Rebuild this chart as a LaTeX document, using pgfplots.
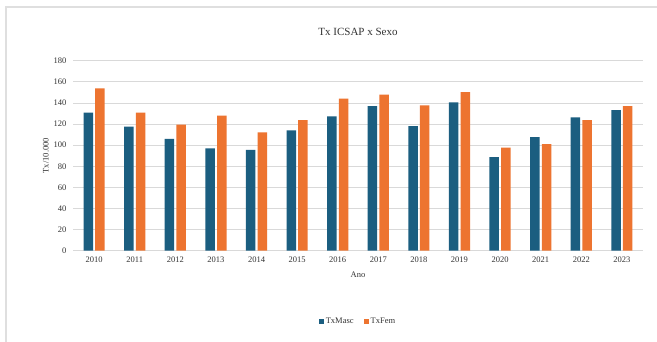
\documentclass[border=0pt]{standalone}
\usepackage{pgfplots}
\pgfplotsset{compat=1.18}
\usepackage{fontspec}
\setmainfont{Liberation Serif}
\definecolor{masc}{HTML}{1B5E80}
\definecolor{fem}{HTML}{ED7430}
\definecolor{gridc}{HTML}{D9D9D9}
\begin{document}
\begin{tikzpicture}[x=1pt,y=1pt]
\useasboundingbox (0,0) rectangle (657,342);
\fill[white] (0,0) rectangle (657,342);
\draw[gray!25,line width=1.5pt] (6,0) -- (6,335) -- (657,335);
\begin{axis}[
  at={(73pt,91.3pt)}, anchor=south west,
  scale only axis, width=570pt, height=190pt,
  ybar=2.2pt, bar width=9.5pt,
  xmin=-0.52, xmax=13.52,
  ymin=0, ymax=180, ytick={0,20,...,180},
  xtick={0,...,13},
  xticklabels={2010,2011,2012,2013,2014,2015,2016,2017,2018,2019,2020,2021,2022,2023},
  axis x line*=bottom, axis y line*=left,
  y axis line style={draw=none},
  x axis line style={gridc, line width=0.8pt},
  ymajorgrids, grid style={gridc, line width=0.8pt},
  major tick length=0pt,
  tick label style={font=\fontsize{8.5}{10}\selectfont, text=black!80},
  /pgf/number format/assume math mode=true,
  yticklabel style={xshift=-3pt},
  xticklabel style={yshift=-3pt},
  xlabel={Ano}, xlabel style={font=\fontsize{8.5}{10}\selectfont, text=black!80, yshift=-2pt},
  ylabel={Tx/10.000}, ylabel style={font=\fontsize{8.5}{10}\selectfont, text=black!80, yshift=-2pt},
  title={Tx ICSAP x Sexo}, title style={font=\fontsize{11}{13}\selectfont, text=black!80, yshift=16pt},
  legend style={at={(0.5,-0.375)}, anchor=center, draw=none, legend columns=-1,
    font=\fontsize{8.5}{10}\selectfont, text=black!80, /tikz/every even column/.append style={column sep=8pt}},
  legend image code/.code={\fill[#1] (0pt,-2.5pt) rectangle (5pt,2.5pt);},
  clip=false,
]
\addplot[fill=masc, draw=none] coordinates {
(0,130.7) (1,117.5) (2,106) (3,97) (4,95.4) (5,114) (6,127.3) (7,137) (8,118) (9,140.5) (10,88.7) (11,107.7) (12,126.3) (13,133.2)};
\addplot[fill=fem, draw=none] coordinates {
(0,153.8) (1,130.7) (2,119.4) (3,127.9) (4,112) (5,123.8) (6,144) (7,147.8) (8,137.7) (9,150.3) (10,97.6) (11,101) (12,123.8) (13,137)};
\legend{TxMasc, TxFem}
\end{axis}
\end{tikzpicture}
\end{document}
